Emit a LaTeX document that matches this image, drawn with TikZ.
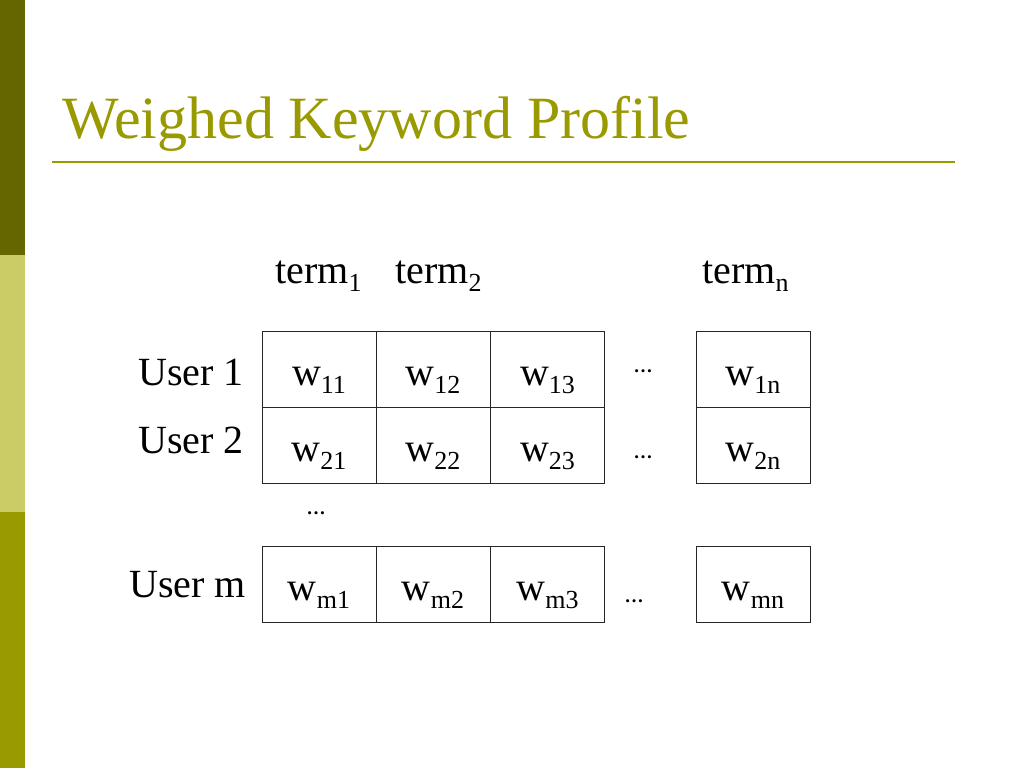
\documentclass[tikz,border=0pt]{standalone}
\usepackage{fontspec}
\setmainfont{Liberation Serif}
\definecolor{bardark}{HTML}{666600}
\definecolor{barlight}{HTML}{CCCC66}
\definecolor{barmid}{HTML}{999900}
\definecolor{titlecol}{HTML}{999900}
\newcommand\wsub[1]{\raisebox{-0.22em}{\fontsize{26}{26}\selectfont #1}}
\tikzset{
  cell/.style={draw=black!85, line width=1pt, minimum width=114pt, minimum height=76pt, inner sep=0pt},
  body/.style={inner sep=0pt, font=\fontsize{40}{48}\selectfont, anchor=base},
  dots/.style={inner sep=0pt, font=\fontsize{19}{22}\selectfont\bfseries, anchor=base},
  titlestyle/.style={inner sep=0pt, font=\fontsize{60}{72}\selectfont, text=titlecol, anchor=base west}
}
\begin{document}
\begin{tikzpicture}[x=1pt,y=-1pt]
\useasboundingbox (0,0) rectangle (1024,768);
\fill[white] (0,0) rectangle (1024,768);
% left bar
\fill[bardark] (0,0) rectangle (25,255);
\fill[barlight] (0,255) rectangle (25,512);
\fill[barmid] (0,512) rectangle (25,768);
% title
\node[titlestyle] (title) at (62,138) {Weighed Keyword Profile};
\coordinate (ulA) at (52,161.5);
\coordinate (ulB) at (955,161.5);
\draw[titlecol, line width=2pt] (ulA) -- (ulB);
% term labels
\node[body, anchor=base west] (term1) at (275,283) {term\wsub{1}};
\node[body, anchor=base west] (term2) at (395,283) {term\wsub{2}};
\node[body, anchor=base west] (termn) at (702,283) {term\wsub{n}};
% user labels
\node[body] (user1) at (191,385) {User 1};
\node[body] (user2) at (191,453) {User 2};
\node[body] (userm) at (187.5,597) {User m};
% cells
\node[cell] (c11) at (319,369) {};
\node[cell] (c12) at (433,369) {};
\node[cell] (c13) at (547.5,369) {};
\node[cell] (c1n) at (753,369) {};
\node[cell] (c21) at (319,445) {};
\node[cell] (c22) at (433,445) {};
\node[cell] (c23) at (547.5,445) {};
\node[cell] (c2n) at (753,445) {};
\node[cell] (cm1) at (319,584.5) {};
\node[cell] (cm2) at (433,584.5) {};
\node[cell] (cm3) at (547.5,584.5) {};
\node[cell] (cmn) at (753,584.5) {};
% cell texts
\node[body] (t11) at (319,385) {w\wsub{11}};
\node[body] (t12) at (433,385) {w\wsub{12}};
\node[body] (t13) at (547.5,385) {w\wsub{13}};
\node[body] (t1n) at (753,385) {w\wsub{1n}};
\node[body] (t21) at (319,461) {w\wsub{21}};
\node[body] (t22) at (433,461) {w\wsub{22}};
\node[body] (t23) at (547.5,461) {w\wsub{23}};
\node[body] (t2n) at (753,461) {w\wsub{2n}};
\node[body] (tm1) at (319,600) {w\wsub{m1}};
\node[body] (tm2) at (433,600) {w\wsub{m2}};
\node[body] (tm3) at (547.5,600) {w\wsub{m3}};
\node[body] (tmn) at (753,600) {w\wsub{mn}};
% dots
\node[dots] (d1) at (643,372) {…};
\node[dots] (d2) at (643,458) {…};
\node[dots] (dm) at (634,602) {…};
\node[dots] (dv) at (316,514) {…};
\end{tikzpicture}
\end{document}
